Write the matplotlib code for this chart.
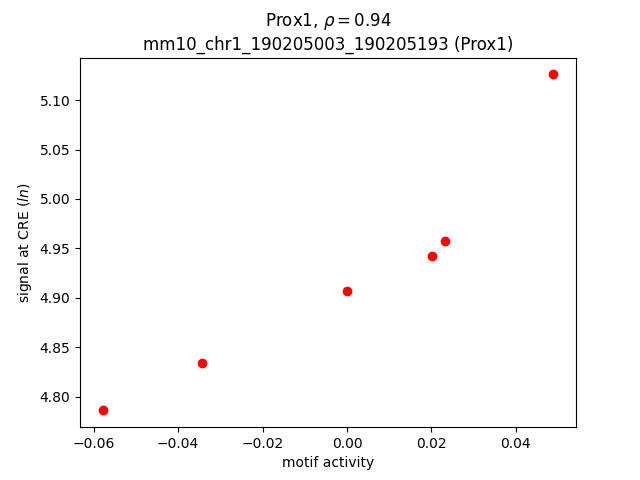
import matplotlib
matplotlib.use("Agg")
import matplotlib.pyplot as plt

# motif activity vs signal at CRE
motif_activity = [-0.0579, -0.0344, 0.0000, 0.0202, 0.0231, 0.0489]
signal = [4.786, 4.834, 4.907, 4.942, 4.957, 5.126]

gene = "Prox1"
rho = 0.94
cre = "mm10_chr1_190205003_190205193"

fig, ax = plt.subplots(figsize=(6.4, 4.8), dpi=100)
ax.plot(motif_activity, signal, "o", color="red")
ax.set_xlabel("motif activity")
ax.set_ylabel("signal at CRE ($ln$)")
ax.set_title(f"{gene}, $\\rho = {rho}$\n{cre} ({gene})")

fig.savefig("out.png")
